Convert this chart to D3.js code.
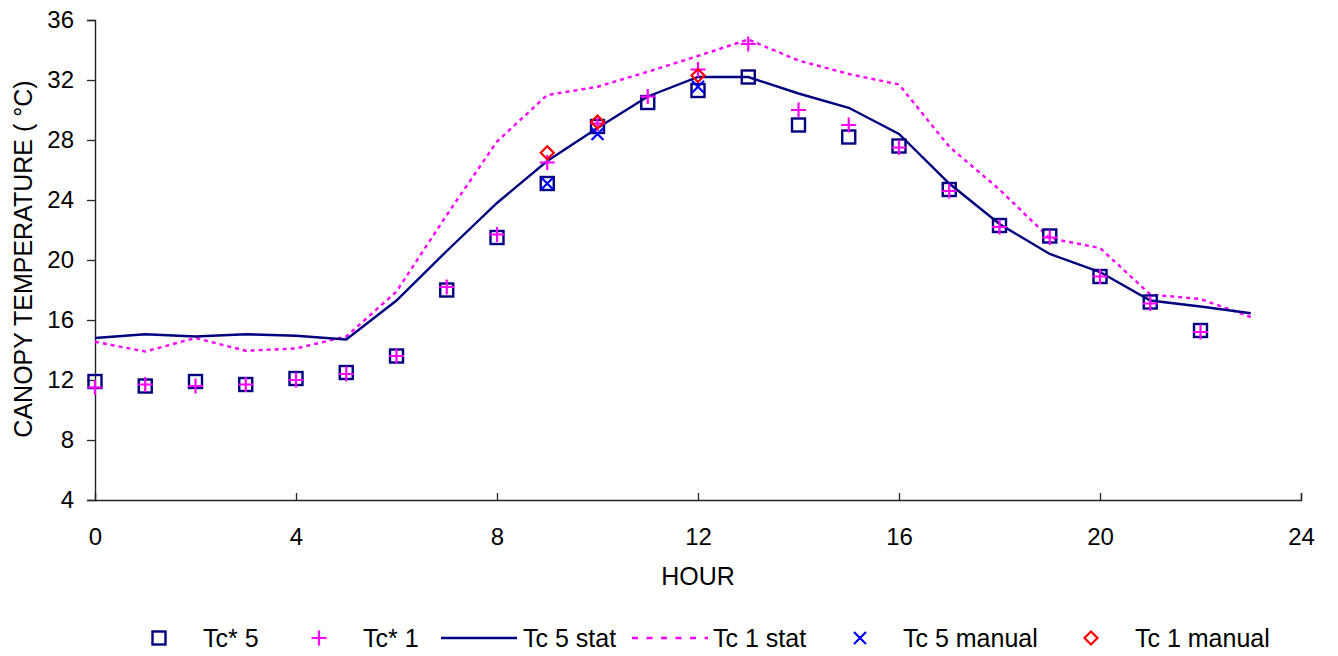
<!DOCTYPE html>
<html><head><meta charset="utf-8">
<script src="https://cdn.jsdelivr.net/npm/d3@7"></script>
<style>body{margin:0;background:#fff}svg{display:block}text{font-family:"Liberation Sans",Arial,sans-serif;fill:#000}</style>
</head><body><svg id="c" width="1338" height="656"></svg>
<script>
const hoursPts = d3.range(0,23);
const hoursLine = d3.range(0,24);
const tcStar5 = [11.9,11.6,11.9,11.7,12.1,12.5,13.6,18.0,21.5,25.1,28.9,30.5,31.3,32.2,29.0,28.2,27.6,24.7,22.3,21.6,18.9,17.2,15.3];
const tcStar1 = [11.5,11.7,11.6,11.7,12.0,12.4,13.6,18.2,21.7,26.5,29.1,30.9,32.7,34.4,30.0,29.0,27.5,24.6,22.2,21.5,18.9,17.1,15.2];
const tc5stat = [14.8,15.05,14.9,15.05,14.95,14.7,17.3,20.6,23.8,26.6,28.8,30.9,32.2,32.2,31.1,30.15,28.4,25.1,22.4,20.4,19.2,17.3,16.9,16.45];
const tc1stat = [14.55,13.9,14.8,13.95,14.1,14.9,17.9,23.0,27.9,31.0,31.55,32.55,33.6,34.7,33.3,32.4,31.7,27.55,24.7,21.45,20.8,17.7,17.4,16.2];
const manualHours = [9,10,12];
const tc5manual = [25.1,28.4,31.55];
const tc1manual = [27.15,29.2,32.3];
const xTicks = [0,4,8,12,16,20,24];
const yTicks = [4,8,12,16,20,24,28,32,36];
const legendLabels = ["Tc* 5","Tc* 1","Tc 5 stat","Tc 1 stat","Tc 5 manual","Tc 1 manual"];

const svg = d3.select("#c");
const x = d3.scaleLinear().domain([0,24]).range([95,1301]);
const y = d3.scaleLinear().domain([4,36]).range([500,20]);
const NAVY="#000080", MAG="#FF00FF", BLUE="#0000FF", RED="#FF0000";

// axes
const gx = svg.append("g").attr("transform","translate(0,500)")
  .call(d3.axisBottom(x).tickValues(xTicks).tickSize(-7).tickFormat(d3.format("d")));
gx.selectAll(".tick text").attr("font-size",24).attr("dy",0).attr("y",45);
const gy = svg.append("g").attr("transform","translate(95,0)")
  .call(d3.axisLeft(y).tickValues(yTicks).tickSize(8).tickPadding(13).tickFormat(d3.format("d")));
gy.selectAll(".tick text").attr("font-size",24);
[gx,gy].forEach(g=>{g.select(".domain").attr("stroke","#222").attr("stroke-width",1.4);
  g.selectAll(".tick line").attr("stroke","#222").attr("stroke-width",1.3);
  g.selectAll(".tick text").attr("fill","#000").attr("font-family","Liberation Sans, Arial, sans-serif");});
gx.selectAll(".tick").filter(d=>d===0).select("line").remove();

svg.append("text").attr("x",698).attr("y",585).attr("text-anchor","middle").attr("font-size",25).text("HOUR");
svg.append("text").attr("transform","translate(32,259) rotate(-90)").attr("text-anchor","middle").attr("font-size",25).text("CANOPY TEMPERATURE ( °C)");

// lines
const line = d3.line().x((d,i)=>x(hoursLine[i])).y(d=>y(d));
svg.append("path").datum(tc1stat).attr("d",line).attr("fill","none").attr("stroke",MAG).attr("stroke-width",2.4).attr("stroke-dasharray","4,4");
svg.append("path").datum(tc5stat).attr("d",line).attr("fill","none").attr("stroke",NAVY).attr("stroke-width",2.4);

// markers
function square(g,cx,cy){g.append("rect").attr("x",cx-6.5).attr("y",cy-6.5).attr("width",13).attr("height",13).attr("fill","none").attr("stroke",NAVY).attr("stroke-width",2.4);}
function plus(g,cx,cy){g.append("path").attr("d",`M${cx-7.5},${cy}H${cx+7.5}M${cx},${cy-7.5}V${cy+7.5}`).attr("stroke",MAG).attr("stroke-width",2.2);}
function cross(g,cx,cy){g.append("path").attr("d",`M${cx-6},${cy-6}L${cx+6},${cy+6}M${cx-6},${cy+6}L${cx+6},${cy-6}`).attr("stroke",BLUE).attr("stroke-width",2.2);}
function diamond(g,cx,cy){g.append("path").attr("d",`M${cx},${cy-6.5}L${cx+6.5},${cy}L${cx},${cy+6.5}L${cx-6.5},${cy}Z`).attr("fill","none").attr("stroke",RED).attr("stroke-width",2.2);}

const gm = svg.append("g");
tcStar5.forEach((v,i)=>square(gm,x(hoursPts[i]),y(v)));
tcStar1.forEach((v,i)=>plus(gm,x(hoursPts[i]),y(v)));
tc5manual.forEach((v,i)=>cross(gm,x(manualHours[i]),y(v)));
tc1manual.forEach((v,i)=>diamond(gm,x(manualHours[i]),y(v)));

// legend
const ly = 638;
const lg = svg.append("g");
square(lg,159,ly); plus(lg,319,ly);
lg.append("line").attr("x1",441).attr("x2",517).attr("y1",ly).attr("y2",ly).attr("stroke",NAVY).attr("stroke-width",2.4);
lg.append("line").attr("x1",632).attr("x2",708).attr("y1",ly).attr("y2",ly).attr("stroke",MAG).attr("stroke-width",2.6).attr("stroke-dasharray","6,8.5");
cross(lg,860,ly); diamond(lg,1091,ly);
const lx = [203,363,523,713,903,1135];
legendLabels.forEach((t,i)=>lg.append("text").attr("x",lx[i]).attr("y",647).attr("font-size",25).text(t));
</script></body></html>
